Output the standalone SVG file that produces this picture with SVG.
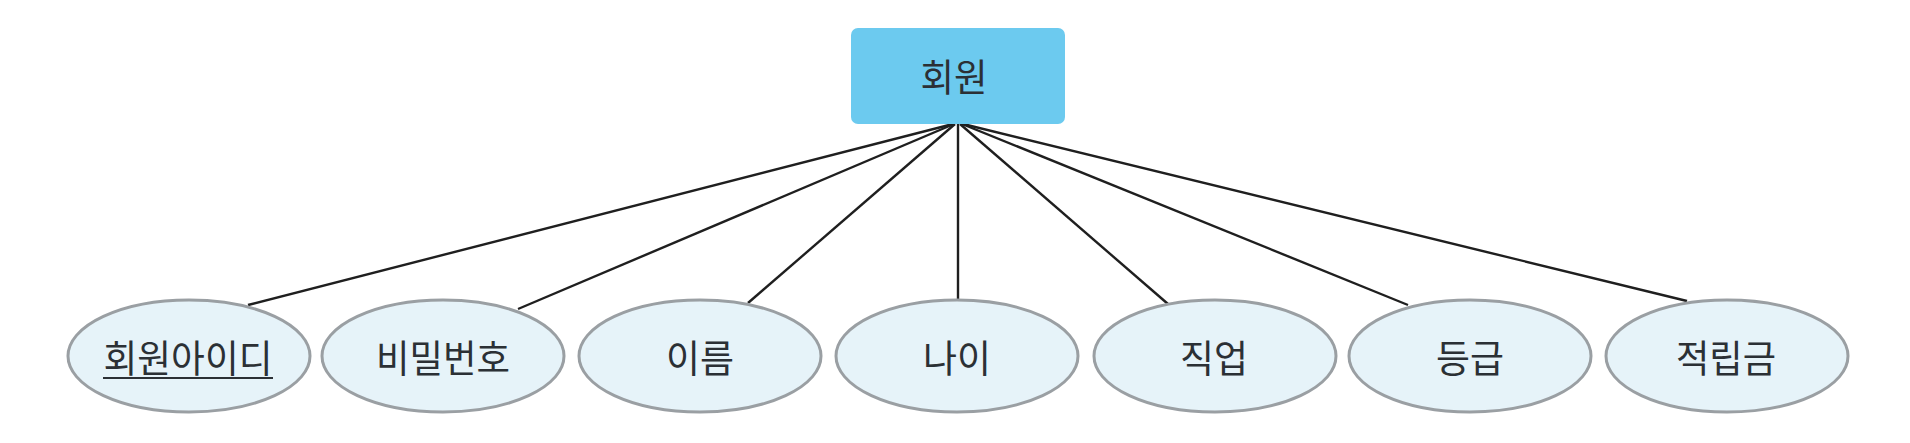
<svg xmlns="http://www.w3.org/2000/svg" width="1910" height="443" viewBox="0 0 1910 443">
<style>
.attr{fill:#e6f3f9;stroke:#9a9fa3;stroke-width:3}
.t{font-family:"Noto Sans CJK KR","Noto Sans",sans-serif;font-size:38px;fill:#2b3035;text-anchor:middle}
.c line{stroke:#1f1f1f;stroke-width:2.4}
</style>
<rect width="1910" height="443" fill="#ffffff"/>
<g class="c" id="connectors">
<line x1="953" y1="124" x2="248" y2="305"/>
<line x1="954" y1="124" x2="518" y2="309"/>
<line x1="955" y1="124" x2="748" y2="303"/>
<line x1="958" y1="124" x2="958" y2="300"/>
<line x1="960" y1="124" x2="1168" y2="304"/>
<line x1="962" y1="124" x2="1408" y2="305"/>
<line x1="963" y1="124" x2="1687" y2="301"/>
</g>
<g id="entity">
<rect x="851" y="28" width="214" height="96" rx="7" fill="#6ccaef"/>
<text class="t" x="954" y="91" textLength="67" lengthAdjust="spacingAndGlyphs">회원</text>
</g>
<g id="attr1">
<ellipse class="attr" cx="189" cy="356" rx="121" ry="56"/>
<text class="t" x="188" y="372" textLength="169" lengthAdjust="spacingAndGlyphs">회원아이디</text>
<line x1="103" y1="378" x2="273" y2="378" stroke="#2b3035" stroke-width="2"/>
</g>
<g id="attr2">
<ellipse class="attr" cx="443" cy="356" rx="121" ry="56"/>
<text class="t" x="443" y="372" textLength="134" lengthAdjust="spacingAndGlyphs">비밀번호</text>
</g>
<g id="attr3">
<ellipse class="attr" cx="700" cy="356" rx="121" ry="56"/>
<text class="t" x="700" y="372" textLength="68" lengthAdjust="spacingAndGlyphs">이름</text>
</g>
<g id="attr4">
<ellipse class="attr" cx="957" cy="356" rx="121" ry="56"/>
<text class="t" x="957" y="372" textLength="68" lengthAdjust="spacingAndGlyphs">나이</text>
</g>
<g id="attr5">
<ellipse class="attr" cx="1215" cy="356" rx="121" ry="56"/>
<text class="t" x="1214" y="372" textLength="68" lengthAdjust="spacingAndGlyphs">직업</text>
</g>
<g id="attr6">
<ellipse class="attr" cx="1470" cy="356" rx="121" ry="56"/>
<text class="t" x="1470" y="372" textLength="68" lengthAdjust="spacingAndGlyphs">등급</text>
</g>
<g id="attr7">
<ellipse class="attr" cx="1727" cy="356" rx="121" ry="56"/>
<text class="t" x="1726" y="372" textLength="100" lengthAdjust="spacingAndGlyphs">적립금</text>
</g>
</svg>
